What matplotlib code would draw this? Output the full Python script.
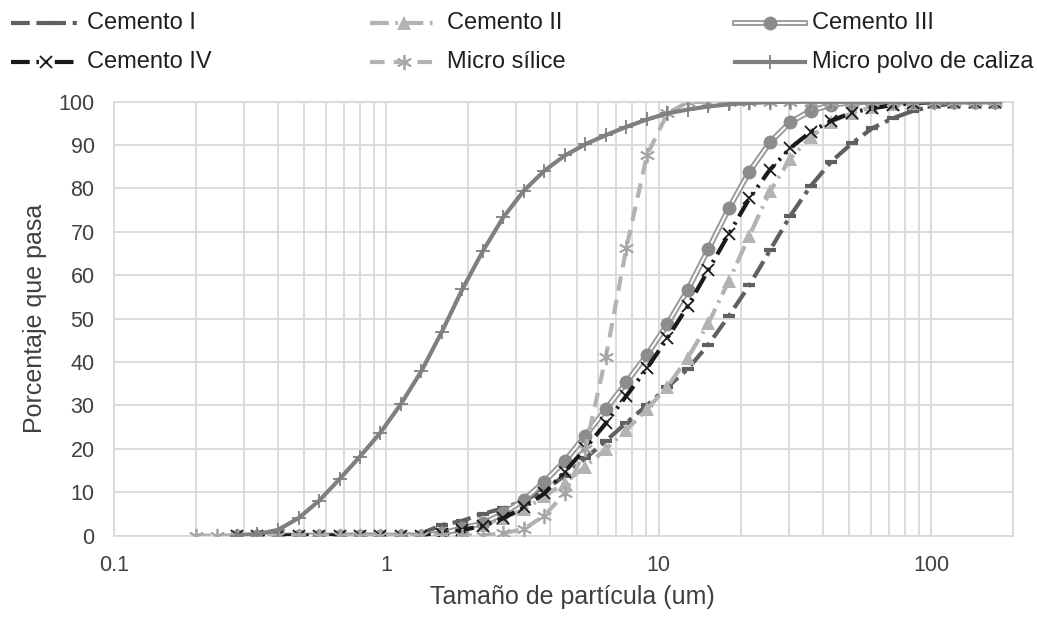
import matplotlib
matplotlib.use("Agg")
import matplotlib.pyplot as plt
from matplotlib.lines import Line2D
from matplotlib.ticker import FixedLocator, FixedFormatter, LogLocator, NullFormatter

plt.rcParams['font.family'] = ['Liberation Sans', 'DejaVu Sans']

# Particle sizes (um), geometric classes
sizes = [0.2, 0.238, 0.283, 0.336, 0.4, 0.476, 0.566, 0.673, 0.8, 0.951,
         1.131, 1.345, 1.6, 1.903, 2.263, 2.691, 3.2, 3.805, 4.525, 5.382,
         6.4, 7.611, 9.051, 10.76, 12.8, 15.22, 18.1, 21.53, 25.6, 30.44,
         36.2, 43.05, 51.2, 60.89, 72.41, 86.11, 102.4, 121.8, 144.8, 172.2]

# Cumulative percentage passing for each material
cemento_1 = [0, 0, 0, 0, 0, 0, 0, 0, 0, 0.5, 2.4, 3.4, 5.0, 6.3, 8.0, 10.5,
             13.8, 17.8, 21.8, 26.0, 30.0, 34.2, 38.4, 44.0, 50.6, 57.7, 65.7,
             73.7, 80.6, 86.2, 90.4, 93.9, 96.2, 97.9, 99.0, 99.6, 100, 100]
cemento_2 = [0, 0, 0, 0, 0, 0, 0, 0, 0, 0, 0.5, 1.2, 2.5, 4.0, 6.0, 9.0,
             12.2, 15.9, 19.9, 24.3, 29.1, 34.3, 41.0, 48.9, 58.7, 69.1, 79.3,
             86.9, 91.9, 95.4, 97.4, 98.8, 99.5, 99.8, 100, 100, 100, 100]
cemento_3 = [0, 0, 0, 0, 0, 0, 0, 0, 0, 0, 0.5, 1.7, 2.8, 5.1, 8.2, 12.4,
             17.2, 23.0, 29.1, 35.3, 41.6, 48.7, 56.7, 66.0, 75.4, 83.9, 90.6,
             95.3, 97.9, 99.3, 99.8, 100, 100, 100, 100, 100, 100, 100]
cemento_4 = [0, 0, 0, 0, 0, 0, 0, 0, 0, 0, 0.3, 1.3, 2.2, 4.0, 6.5, 9.7,
             14.7, 20.1, 25.9, 32.2, 38.5, 45.5, 52.9, 61.2, 69.5, 77.7, 84.3,
             89.3, 93.1, 95.6, 97.5, 98.5, 99.2, 99.7, 99.9, 100, 100, 100]
micro_silice = [0, 0, 0, 0, 0, 0, 0, 0, 0, 0, 0, 0, 0, 0, 0, 0.5, 1.5, 4.6,
                9.7, 20.0, 41.2, 66.3, 87.6, 97.3, 99.9, 100, 100, 100, 100,
                100, 100, 100, 100, 100, 100, 100, 100, 100, 100, 100]
micro_caliza = [0, 0.3, 1.3, 4.0, 8.0, 13.0, 18.2, 23.7, 30.3, 37.9, 47.0,
                56.8, 65.6, 73.4, 79.5, 84.1, 87.6, 90.2, 92.3, 94.2, 95.9,
                97.3, 98.2, 98.9, 99.4, 99.7, 99.9, 100, 100, 100, 100, 100,
                100, 100, 100, 100, 100, 100]

labels = ["Cemento I", "Cemento II", "Cemento III",
          "Cemento IV", "Micro sílice", "Micro polvo de caliza"]
x_ticks = [0.1, 1, 10, 100]
x_tick_labels = ["0.1", "1", "10", "100"]
y_ticks = list(range(0, 101, 10))

W, H = 1037, 619
fig = plt.figure(figsize=(W / 100, H / 100), dpi=100)
ax = fig.add_axes([114 / W, 1 - 535.5 / H, (1013 - 114) / W, (535.5 - 101.7) / H])

GRID = "#d9d9d9"
TXT = "#404040"

# Line / marker styles for each series
styles = [
    dict(color="#606060", lw=3.0, dashes=(4.5, 1.6, 1.0, 1.6), marker="_",
         ms=8, mew=3.0, mfc="#606060", mec="#606060"),
    dict(color="#b3b3b3", lw=3.0, dashes=(4.5, 1.6, 0.6, 1.6), marker="^",
         ms=9.5, mew=0, mfc="#b3b3b3", mec="#b3b3b3"),
    None,
    dict(color="#1a1a1a", lw=3.0, dashes=(4.5, 1.6, 0.6, 1.6, 0.6, 1.6),
         marker="x", ms=9, mew=1.3, mfc="#1a1a1a", mec="#1a1a1a"),
    dict(color="#b3b3b3", lw=3.0, dashes=(3.5, 2.2), marker=(6, 2, 0),
         ms=11, mew=1.3, mfc="#a6a6a6", mec="#a6a6a6"),
    dict(color="#808080", lw=3.0, marker="+", ms=10, mew=1.3,
         mfc="#808080", mec="#808080"),
]

cem_x = sizes[2:]
ax.plot(cem_x, cemento_1, zorder=3, **styles[0])
ax.plot(cem_x, cemento_2, zorder=3, **styles[1])
# Cemento III: double line (gray outline, white core) with round markers
ax.plot(cem_x, cemento_3, color="#9a9a9a", lw=4.2, zorder=3)
ax.plot(cem_x, cemento_3, color="white", lw=1.4, zorder=3,
        marker="o", ms=10, mfc="#8c8c8c", mec="#8c8c8c", mew=0)
ax.plot(cem_x, cemento_4, zorder=3, **styles[3])
ax.plot(sizes, micro_silice, zorder=3, **styles[4])
ax.plot(cem_x, micro_caliza, zorder=3, **styles[5])

ax.set_xscale("log")
ax.set_xlim(0.1, 200)
ax.set_ylim(0, 100)
ax.xaxis.set_major_locator(FixedLocator(x_ticks))
ax.xaxis.set_major_formatter(FixedFormatter(x_tick_labels))
ax.xaxis.set_minor_locator(LogLocator(base=10, subs=range(2, 10)))
ax.xaxis.set_minor_formatter(NullFormatter())
ax.set_yticks(y_ticks)
ax.grid(True, which="both", axis="x", color=GRID, lw=1.3, zorder=0)
ax.grid(True, which="major", axis="y", color=GRID, lw=1.3, zorder=0)
ax.set_axisbelow(True)
for sp in ax.spines.values():
    sp.set_color(GRID)
    sp.set_linewidth(1.3)
ax.tick_params(axis="both", which="both", length=0, labelsize=15.5,
               labelcolor=TXT)
ax.tick_params(axis="x", pad=14)
ax.tick_params(axis="y", pad=14)

fig.text(572 / W, 1 - 597 / H, "Tamaño de partícula (um)", ha="center",
         va="center", fontsize=18, color=TXT)
fig.text(35 / W, 1 - 318 / H, "Porcentaje que pasa", ha="center",
         va="center", rotation=90, fontsize=18, color=TXT)

# Legend drawn as figure artists in three columns, two rows
def fx(x):
    return x / W

def fy(y):
    return 1 - y / H

entries = [
    (0, 11, 80, 87, 23),
    (1, 370, 438, 447, 23),
    (2, 735, 805, 812, 23),
    (3, 11, 80, 87, 62),
    (4, 370, 438, 447, 62),
    (5, 735, 805, 812, 62),
]
for idx, x0, x1, tx, y in entries:
    xc = (x0 + x1) / 2
    if idx == 2:
        fig.add_artist(Line2D([fx(x0), fx(x1)], [fy(y), fy(y)], color="#9a9a9a",
                              lw=4.2, transform=fig.transFigure))
        fig.add_artist(Line2D([fx(x0), fx(x1)], [fy(y), fy(y)], color="white",
                              lw=1.4, transform=fig.transFigure))
        fig.add_artist(Line2D([fx(xc)], [fy(y)], marker="o", ms=10, mew=0,
                              mfc="#8c8c8c", transform=fig.transFigure))
    else:
        st = dict(styles[idx])
        mk = {k: st.pop(k) for k in ("marker", "ms", "mew", "mfc", "mec")}
        fig.add_artist(Line2D([fx(x0), fx(x1)], [fy(y), fy(y)],
                              transform=fig.transFigure, **st))
        fig.add_artist(Line2D([fx(xc)], [fy(y)], linestyle="none",
                              transform=fig.transFigure, **mk))
    fig.text(fx(tx), fy(y), labels[idx], ha="left", va="center",
             fontsize=17, color="#1f1f1f")

fig.savefig("out.png", dpi=100, facecolor="white")
